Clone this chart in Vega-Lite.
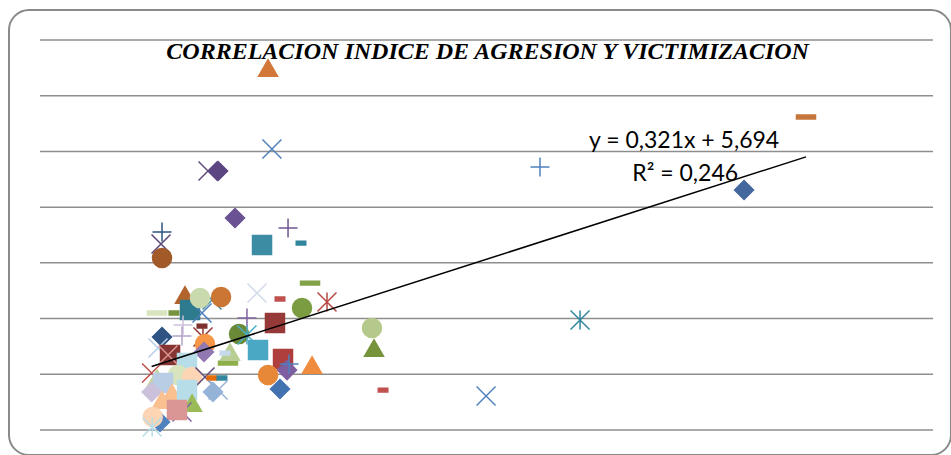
{
  "$schema": "https://vega.github.io/schema/vega-lite/v6.json",
  "width": 942,
  "height": 445,
  "autosize": "none",
  "padding": {"left": 9, "top": 10, "right": 0, "bottom": 0},
  "background": "white",
  "config": {
    "view": {"stroke": "#8A8A8A", "strokeWidth": 2, "cornerRadius": 20}
  },
  "layer": [
    {
      "data": {"values": [{"v": 0}, {"v": 5}, {"v": 10}, {"v": 15}, {"v": 20}, {"v": 25}, {"v": 30}, {"v": 35}]},
      "mark": {"type": "rule", "color": "#8E8E8E", "strokeWidth": 1.5},
      "encoding": {
        "y": {"field": "v", "type": "quantitative", "scale": {"domain": [-2.24, 37.69], "nice": false, "zero": false}, "axis": null},
        "x": {"datum": -10, "type": "quantitative", "scale": {"domain": [-12.777, 71.61], "nice": false, "zero": false}, "axis": null},
        "x2": {"datum": 70}
      }
    },
    {
      "data": {"values": [
        {"serie": "S01", "x": 10.43, "y": 32.49},
        {"serie": "S02", "x": 10.78, "y": 25.22},
        {"serie": "S03", "x": 5.05, "y": 23.24},
        {"serie": "S04", "x": 5.95, "y": 23.24},
        {"serie": "S05", "x": 7.47, "y": 19.03},
        {"serie": "S06", "x": 0.93, "y": 17.77},
        {"serie": "S07", "x": 0.84, "y": 16.69},
        {"serie": "S08", "x": 0.93, "y": 15.44},
        {"serie": "S09", "x": 9.89, "y": 16.6},
        {"serie": "S10", "x": 12.22, "y": 18.13},
        {"serie": "S11", "x": 13.38, "y": 16.78},
        {"serie": "S12", "x": 34.79, "y": 23.6},
        {"serie": "S13", "x": 53.07, "y": 21.54},
        {"serie": "S14", "x": 58.62, "y": 28.09},
        {"serie": "S15", "x": 38.38, "y": 9.87},
        {"serie": "S16", "x": 29.96, "y": 3.05},
        {"serie": "S17", "x": 20.73, "y": 3.59},
        {"serie": "S18", "x": 9.44, "y": 12.29},
        {"serie": "S19", "x": 11.5, "y": 11.76},
        {"serie": "S20", "x": 14.19, "y": 13.19},
        {"serie": "S21", "x": 13.47, "y": 10.95},
        {"serie": "S22", "x": 15.71, "y": 11.49},
        {"serie": "S23", "x": 11.05, "y": 9.6},
        {"serie": "S24", "x": 8.54, "y": 10.05},
        {"serie": "S25", "x": 7.83, "y": 8.62},
        {"serie": "S26", "x": 8.54, "y": 8.53},
        {"serie": "S27", "x": 6.84, "y": 6.01},
        {"serie": "S28", "x": 7.02, "y": 7.0},
        {"serie": "S29", "x": 6.57, "y": 6.91},
        {"serie": "S30", "x": 9.53, "y": 7.18},
        {"serie": "S31", "x": 11.77, "y": 6.37},
        {"serie": "S32", "x": 12.13, "y": 5.38},
        {"serie": "S33", "x": 12.31, "y": 5.92},
        {"serie": "S34", "x": 14.37, "y": 5.83},
        {"serie": "S35", "x": 10.43, "y": 4.94},
        {"serie": "S36", "x": 11.5, "y": 3.68},
        {"serie": "S37", "x": 19.74, "y": 9.15},
        {"serie": "S38", "x": 19.92, "y": 7.36},
        {"serie": "S39", "x": 5.41, "y": 11.67},
        {"serie": "S40", "x": 0.48, "y": 10.5},
        {"serie": "S41", "x": 2.0, "y": 10.5},
        {"serie": "S42", "x": 2.99, "y": 12.12},
        {"serie": "S43", "x": 3.44, "y": 10.77},
        {"serie": "S44", "x": 4.51, "y": 10.5},
        {"serie": "S45", "x": 4.33, "y": 11.85},
        {"serie": "S46", "x": 6.22, "y": 11.94},
        {"serie": "S47", "x": 2.81, "y": 9.42},
        {"serie": "S48", "x": 2.72, "y": 8.44},
        {"serie": "S49", "x": 0.93, "y": 8.35},
        {"serie": "S50", "x": 4.51, "y": 9.33},
        {"serie": "S51", "x": 4.6, "y": 8.35},
        {"serie": "S52", "x": 0.57, "y": 7.36},
        {"serie": "S53", "x": 4.78, "y": 7.72},
        {"serie": "S54", "x": 4.69, "y": 7.0},
        {"serie": "S55", "x": 0.0, "y": 5.12},
        {"serie": "S56", "x": 1.65, "y": 6.73},
        {"serie": "S57", "x": 1.47, "y": 6.73},
        {"serie": "S58", "x": 3.17, "y": 6.01},
        {"serie": "S59", "x": 0.48, "y": 4.67},
        {"serie": "S60", "x": 2.36, "y": 4.94},
        {"serie": "S61", "x": 3.62, "y": 4.76},
        {"serie": "S62", "x": 4.78, "y": 4.76},
        {"serie": "S63", "x": 5.41, "y": 4.67},
        {"serie": "S64", "x": 6.3, "y": 4.67},
        {"serie": "S65", "x": 1.02, "y": 4.22},
        {"serie": "S66", "x": 0.0, "y": 3.41},
        {"serie": "S67", "x": 1.83, "y": 3.32},
        {"serie": "S68", "x": 3.17, "y": 3.59},
        {"serie": "S69", "x": 5.5, "y": 3.41},
        {"serie": "S70", "x": 5.95, "y": 3.59},
        {"serie": "S71", "x": 3.62, "y": 2.42},
        {"serie": "S72", "x": 0.93, "y": 2.69},
        {"serie": "S73", "x": 2.72, "y": 1.62},
        {"serie": "S74", "x": 2.27, "y": 1.79},
        {"serie": "S75", "x": 0.75, "y": 0.72},
        {"serie": "S76", "x": 0.1, "y": 1.17},
        {"serie": "S77", "x": 0.05, "y": 0.27}
      ]},
      "mark": {"type": "point", "filled": true, "opacity": 1, "size": 361, "strokeWidth": 1.5},
      "encoding": {
        "x": {"field": "x", "type": "quantitative"},
        "y": {"field": "y", "type": "quantitative"},
        "shape": {
          "field": "serie", "type": "nominal", "legend": null,
          "scale": {
            "domain": ["S01","S02","S03","S04","S05","S06","S07","S08","S09","S10","S11","S12","S13","S14","S15","S16","S17","S18","S19","S20","S21","S22","S23","S24","S25","S26","S27","S28","S29","S30","S31","S32","S33","S34","S35","S36","S37","S38","S39","S40","S41","S42","S43","S44","S45","S46","S47","S48","S49","S50","S51","S52","S53","S54","S55","S56","S57","S58","S59","S60","S61","S62","S63","S64","S65","S66","S67","S68","S69","S70","S71","S72","S73","S74","S75","S76","S77"],
            "range": [
              "triangle-up",
              "M-1,-1L1,1M-1,1L1,-1",
              "M-1,-1L1,1M-1,1L1,-1",
              "diamond",
              "diamond",
              "M-1,0L1,0M0,-1L0,1",
              "M-1,-1L1,1M-1,1L1,-1",
              "circle",
              "square",
              "M-1,0L1,0M0,-1L0,1",
              "M-0.5,-0.2L0.5,-0.2L0.5,0.2L-0.5,0.2Z",
              "M-1,0L1,0M0,-1L0,1",
              "diamond",
              "M-1,-0.2L1,-0.2L1,0.2L-1,0.2Z",
              "M-1,-1L1,1M-1,1L1,-1M0,-1L0,1",
              "M-1,-1L1,1M-1,1L1,-1",
              "M-0.5,-0.2L0.5,-0.2L0.5,0.2L-0.5,0.2Z",
              "M-1,-1L1,1M-1,1L1,-1",
              "M-0.5,-0.2L0.5,-0.2L0.5,0.2L-0.5,0.2Z",
              "M-1,-0.2L1,-0.2L1,0.2L-1,0.2Z",
              "circle",
              "M-1,-1L1,1M-1,1L1,-1M0,-1L0,1",
              "square",
              "M-1,0L1,0M0,-1L0,1",
              "circle",
              "M-1,-1L1,1M-1,1L1,-1M0,-1L0,1",
              "M-1,-0.2L1,-0.2L1,0.2L-1,0.2Z",
              "triangle-up",
              "M-0.5,-0.2L0.5,-0.2L0.5,0.2L-0.5,0.2Z",
              "square",
              "square",
              "diamond",
              "M-1,0L1,0M0,-1L0,1",
              "triangle-up",
              "circle",
              "diamond",
              "circle",
              "triangle-up",
              "M-1,-1L1,1M-1,1L1,-1",
              "M-1,-0.2L1,-0.2L1,0.2L-1,0.2Z",
              "M-0.5,-0.2L0.5,-0.2L0.5,0.2L-0.5,0.2Z",
              "triangle-up",
              "square",
              "M-1,-1L1,1M-1,1L1,-1",
              "circle",
              "circle",
              "M-1,0L1,0M0,-1L0,1",
              "M-1,0L1,0M0,-1L0,1",
              "diamond",
              "M-0.5,-0.2L0.5,-0.2L0.5,0.2L-0.5,0.2Z",
              "M-1,-1L1,1M-1,1L1,-1M0,-1L0,1",
              "M-1,-1L1,1M-1,1L1,-1",
              "circle",
              "diamond",
              "M-1,-1L1,1M-1,1L1,-1",
              "square",
              "M-1,-1L1,1M-1,1L1,-1",
              "square",
              "triangle-up",
              "circle",
              "circle",
              "M-1,-1L1,1M-1,1L1,-1",
              "M-0.5,-0.2L0.5,-0.2L0.5,0.2L-0.5,0.2Z",
              "M-0.5,-0.2L0.5,-0.2L0.5,0.2L-0.5,0.2Z",
              "square",
              "diamond",
              "triangle-up",
              "square",
              "diamond",
              "M-1,-1L1,1M-1,1L1,-1",
              "triangle-up",
              "triangle-up",
              "M-1,-1L1,1M-1,1L1,-1",
              "square",
              "diamond",
              "circle",
              "M-1,-1L1,1M-1,1L1,-1M0,-1L0,1"
            ]
          }
        },
        "fill": {
          "field": "serie", "type": "nominal", "legend": null,
          "scale": {
            "domain": ["S01","S02","S03","S04","S05","S06","S07","S08","S09","S10","S11","S12","S13","S14","S15","S16","S17","S18","S19","S20","S21","S22","S23","S24","S25","S26","S27","S28","S29","S30","S31","S32","S33","S34","S35","S36","S37","S38","S39","S40","S41","S42","S43","S44","S45","S46","S47","S48","S49","S50","S51","S52","S53","S54","S55","S56","S57","S58","S59","S60","S61","S62","S63","S64","S65","S66","S67","S68","S69","S70","S71","S72","S73","S74","S75","S76","S77"],
            "range": ["#D2793A","#4F81BD","#604A7B","#5C4682","#6A5193","#2D5281","#5A4578","#A15A28","#3C8CA3","#6E578F","#31859C","#4F81BD","#44689E","#C5753A","#31869E","#4F81BD","#C0504D","#D3DCEB","#C0504D","#83A24A","#7C9C41","#B94845","#953A38","#8064A2","#6A8A38","#4BACC6","#8DB04B","#B9CE94","#C6D9EC","#4AA8C4","#AF3F3C","#7D5EA0","#4F81BD","#F08C3E","#E68838","#4272B0","#B4C98B","#77933C","#3D89A6","#D7E4BD","#77933C","#B3642C","#2E7B8E","#4A7EBB","#C9DAAE","#CB7635","#CCC1DA","#B3A2C7","#2F5382","#7E302D","#953735","#B9CDE5","#F79646","#9178B0","#C0504D","#863533","#D99694","#B7DEE8","#C3D69B","#D7E4BD","#FCD5B5","#604A7B","#E46C0A","#31859C","#B9CDE5","#CCC1DA","#FAC090","#B7DEE8","#95B3D7","#95B3D7","#9BBB59","#FAC090","#8064A2","#D99694","#4F81BD","#FCD5B5","#B7DEE8"]
          }
        },
        "stroke": {
          "field": "serie", "type": "nominal", "legend": null,
          "scale": {
            "domain": ["S01","S02","S03","S04","S05","S06","S07","S08","S09","S10","S11","S12","S13","S14","S15","S16","S17","S18","S19","S20","S21","S22","S23","S24","S25","S26","S27","S28","S29","S30","S31","S32","S33","S34","S35","S36","S37","S38","S39","S40","S41","S42","S43","S44","S45","S46","S47","S48","S49","S50","S51","S52","S53","S54","S55","S56","S57","S58","S59","S60","S61","S62","S63","S64","S65","S66","S67","S68","S69","S70","S71","S72","S73","S74","S75","S76","S77"],
            "range": ["#D2793A","#4F81BD","#604A7B","#5C4682","#6A5193","#2D5281","#5A4578","#A15A28","#3C8CA3","#6E578F","#31859C","#4F81BD","#44689E","#C5753A","#31869E","#4F81BD","#C0504D","#D3DCEB","#C0504D","#83A24A","#7C9C41","#B94845","#953A38","#8064A2","#6A8A38","#4BACC6","#8DB04B","#B9CE94","#C6D9EC","#4AA8C4","#AF3F3C","#7D5EA0","#4F81BD","#F08C3E","#E68838","#4272B0","#B4C98B","#77933C","#3D89A6","#D7E4BD","#77933C","#B3642C","#2E7B8E","#4A7EBB","#C9DAAE","#CB7635","#CCC1DA","#B3A2C7","#2F5382","#7E302D","#953735","#B9CDE5","#F79646","#9178B0","#C0504D","#863533","#D99694","#B7DEE8","#C3D69B","#D7E4BD","#FCD5B5","#604A7B","#E46C0A","#31859C","#B9CDE5","#CCC1DA","#FAC090","#B7DEE8","#95B3D7","#95B3D7","#9BBB59","#FAC090","#8064A2","#D99694","#4F81BD","#FCD5B5","#B7DEE8"]
          }
        }
      }
    },
    {
      "data": {"values": [{"x": 0, "y": 5.694}, {"x": 58.62, "y": 24.511}]},
      "mark": {"type": "line", "color": "black", "strokeWidth": 1.5},
      "encoding": {
        "x": {"field": "x", "type": "quantitative"},
        "y": {"field": "y", "type": "quantitative"}
      }
    },
    {
      "data": {"values": [{"titulo": "CORRELACION INDICE DE AGRESION Y VICTIMIZACION"}]},
      "mark": {"type": "text", "font": "Liberation Serif", "fontSize": 24, "fontStyle": "italic", "fontWeight": "bold", "color": "black", "align": "center", "baseline": "alphabetic"},
      "encoding": {
        "text": {"field": "titulo"},
        "x": {"datum": 30.1},
        "y": {"datum": 33.29}
      }
    },
    {
      "data": {"values": [{"ecuacion": "y = 0,321x + 5,694"}]},
      "mark": {"type": "text", "font": "Lato", "fontSize": 23, "color": "black", "align": "center", "baseline": "alphabetic"},
      "encoding": {
        "text": {"field": "ecuacion"},
        "x": {"datum": 47.7},
        "y": {"datum": 25.31}
      }
    },
    {
      "data": {"values": [{"ajuste": "R² = 0,246"}]},
      "mark": {"type": "text", "font": "Lato", "fontSize": 23, "color": "black", "align": "center", "baseline": "alphabetic"},
      "encoding": {
        "text": {"field": "ajuste"},
        "x": {"datum": 47.8},
        "y": {"datum": 22.35}
      }
    }
  ]
}
